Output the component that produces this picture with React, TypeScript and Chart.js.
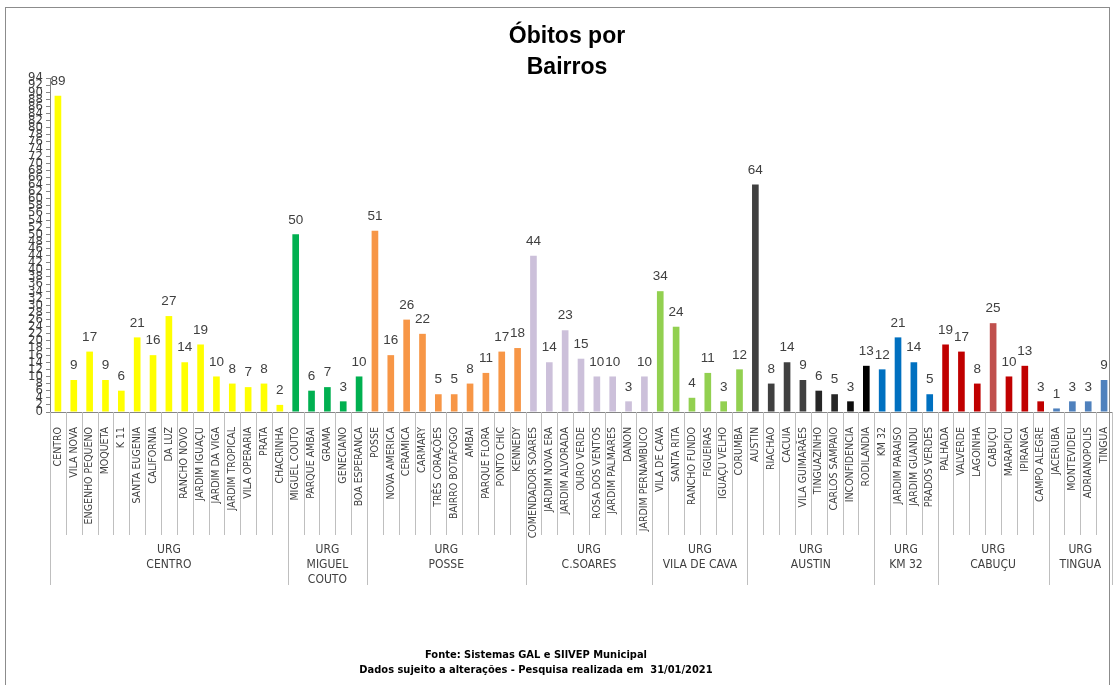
import React, { useEffect, useRef } from "react";
import { Chart, registerables } from "chart.js";

Chart.register(...registerables);

// ---------- DATA ----------
const chartTitle = ["Óbitos por", "Bairros"];
const footerLines = [
  "Fonte: Sistemas GAL e SIlVEP Municipal",
  "Dados sujeito a alterações - Pesquisa realizada em  31/01/2021",
];

const groupLabels = [
  ["URG", "CENTRO"],
  ["URG", "MIGUEL", "COUTO"],
  ["URG", "POSSE"],
  ["URG", "C.SOARES"],
  ["URG", "VILA DE CAVA"],
  ["URG", "AUSTIN"],
  ["URG", "KM 32"],
  ["URG", "CABUÇU"],
  ["URG", "TINGUA"],
];

const centroNames = [
  "CENTRO", "VILA NOVA", "ENGENHO PEQUENO", "MOQUETA", "K 11", "SANTA EUGENIA",
  "CALIFORNIA", "DA LUZ", "RANCHO NOVO", "JARDIM IGUAÇU", "JARDIM DA VIGA",
  "JARDIM TROPICAL", "VILA OPERARIA", "PRATA", "CHACRINHA",
];
const centroValues = [89, 9, 17, 9, 6, 21, 16, 27, 14, 19, 10, 8, 7, 8, 2];

const miguelCoutoNames = ["MIGUEL COUTO", "PARQUE AMBAI", "GRAMA", "GENECIANO", "BOA ESPERANCA"];
const miguelCoutoValues = [50, 6, 7, 3, 10];

const posseNames = [
  "POSSE", "NOVA AMERICA", "CERAMICA", "CARMARY", "TRÊS CORAÇÕES", "BAIRRO BOTAFOGO",
  "AMBAI", "PARQUE FLORA", "PONTO CHIC", "KENNEDY",
];
const posseValues = [51, 16, 26, 22, 5, 5, 8, 11, 17, 18];

const cSoaresNames = [
  "COMENDADOR SOARES", "JARDIM NOVA ERA", "JARDIM ALVORADA", "OURO VERDE",
  "ROSA DOS VENTOS", "JARDIM PALMARES", "DANON", "JARDIM PERNAMBUCO",
];
const cSoaresValues = [44, 14, 23, 15, 10, 10, 3, 10];

const vilaDeCavaNames = ["VILA DE CAVA", "SANTA RITA", "RANCHO FUNDO", "FIGUEIRAS", "IGUAÇU VELHO", "CORUMBA"];
const vilaDeCavaValues = [34, 24, 4, 11, 3, 12];

const austinNames = [
  "AUSTIN", "RIACHAO", "CACUIA", "VILA GUIMARÃES", "TINGUAZINHO", "CARLOS SAMPAIO",
  "INCONFIDENCIA", "RODILANDIA",
];
const austinValues = [64, 8, 14, 9, 6, 5, 3, 13];

const km32Names = ["KM 32", "JARDIM PARAISO", "JARDIM GUANDU", "PRADOS VERDES"];
const km32Values = [12, 21, 14, 5];

const cabucuNames = ["PALHADA", "VALVERDE", "LAGOINHA", "CABUÇU", "MARAPICU", "IPIRANGA", "CAMPO ALEGRE"];
const cabucuValues = [19, 17, 8, 25, 10, 13, 3];

const tinguaNames = ["JACERUBA", "MONTEVIDEU", "ADRIANOPOLIS", "TINGUA"];
const tinguaValues = [1, 3, 3, 9];

const yMax = 94;
const yStep = 2;

// ---------- STYLES ----------
const groupColors = [
  ["#FFFF00"],
  ["#00B050"],
  ["#F79646"],
  ["#CCC0DA"],
  ["#92D050"],
  ["#404040", "#404040", "#404040", "#404040", "#262626", "#262626", "#0D0D0D", "#000000"],
  ["#0070C0"],
  ["#C00000", "#C00000", "#C00000", "#C0504D", "#C00000", "#C00000", "#C00000"],
  ["#4F81BD"],
];

const groupNames = [
  centroNames, miguelCoutoNames, posseNames, cSoaresNames, vilaDeCavaNames,
  austinNames, km32Names, cabucuNames, tinguaNames,
];
const groupValues = [
  centroValues, miguelCoutoValues, posseValues, cSoaresValues, vilaDeCavaValues,
  austinValues, km32Values, cabucuValues, tinguaValues,
];

const labels: string[] = groupNames.flat();
const values: number[] = groupValues.flat();
const colors: string[] = groupNames.flatMap((names, g) =>
  names.map((_, i) => groupColors[g][i] ?? groupColors[g][0])
);
const groupStarts: number[] = [];
{
  let s = 0;
  groupNames.forEach((names) => {
    groupStarts.push(s);
    s += names.length;
  });
}

const NARROW = "'Liberation Sans Narrow', 'DejaVu Sans Condensed', 'Liberation Sans', Arial, sans-serif";
const SANS = "'Liberation Sans', Arial, sans-serif";
const TEXT = "#404040";

const decorPlugin = {
  id: "decor",
  afterDatasetsDraw(chart: any) {
    const ctx = chart.ctx as CanvasRenderingContext2D;
    const meta = chart.getDatasetMeta(0);
    ctx.save();
    ctx.font = `13.5px ${SANS}`;
    ctx.fillStyle = TEXT;
    ctx.textAlign = "center";
    ctx.textBaseline = "middle";
    meta.data.forEach((el: any, i: number) => {
      ctx.fillText(String(values[i]), el.x, el.y - 14.5);
    });
    ctx.restore();
  },
  afterDraw(chart: any) {
    const ctx = chart.ctx as CanvasRenderingContext2D;
    const xs = chart.scales.x;
    const top = chart.chartArea.bottom;
    const n = labels.length;
    const step = xs.getPixelForValue(1) - xs.getPixelForValue(0);
    const edge = (i: number) =>
      i < n ? xs.getPixelForValue(i) - step / 2 : xs.getPixelForValue(n - 1) + step / 2;
    const sepBottom = top + 123;
    const groupBottom = top + 173;

    ctx.save();
    ctx.strokeStyle = "#BFBFBF";
    ctx.lineWidth = 1;
    for (let i = 0; i <= n; i++) {
      const isGroup = i === n || groupStarts.includes(i);
      const px = Math.round(edge(i)) + 0.5;
      ctx.beginPath();
      ctx.moveTo(px, top);
      ctx.lineTo(px, isGroup ? groupBottom : sepBottom);
      ctx.stroke();
    }

    ctx.fillStyle = TEXT;
    ctx.font = `12px ${NARROW}`;
    ctx.textAlign = "center";
    ctx.textBaseline = "middle";
    groupLabels.forEach((lines, g) => {
      const start = groupStarts[g];
      const end = g + 1 < groupStarts.length ? groupStarts[g + 1] : n;
      const cx = (edge(start) + edge(end)) / 2;
      lines.forEach((line, k) => {
        ctx.fillText(line, cx, top + 138 + k * 15);
      });
    });

    // title
    ctx.fillStyle = "#000000";
    ctx.font = `bold 23px ${SANS}`;
    chartTitle.forEach((line, k) => ctx.fillText(line, 567, 37 + k * 31));

    // footer
    ctx.font = `bold 11px ${NARROW}`;
    footerLines.forEach((line, k) => ctx.fillText(line, 536, 655 + k * 15));
    ctx.restore();
  },
};

export default function App() {
  const ref = useRef<HTMLCanvasElement>(null);

  useEffect(() => {
    if (!ref.current) return;
    const chart = new Chart(ref.current, {
      type: "bar",
      data: {
        labels,
        datasets: [
          {
            data: values,
            backgroundColor: colors,
            borderWidth: 0,
            categoryPercentage: 1,
            barPercentage: 0.42,
          },
        ],
      },
      options: {
        animation: false,
        responsive: false,
        devicePixelRatio: 1,
        layout: { padding: { top: 78, bottom: 100, left: 0, right: 1 } },
        plugins: {
          legend: { display: false },
          title: { display: false },
          tooltip: { enabled: false },
        },
        scales: {
          x: {
            type: "category",
            grid: { display: false },
            border: { display: true, color: "#868686", width: 1 },
            ticks: {
              autoSkip: false,
              minRotation: 90,
              maxRotation: 90,
              padding: 7,
              color: TEXT,
              font: { size: 10.5, family: NARROW },
            },
            afterFit(scale: any) {
              scale.height = 173;
              scale.paddingLeft = 0;
              scale.paddingRight = 0;
            },
          },
          y: {
            min: 0,
            max: yMax,
            grid: { drawOnChartArea: false, drawTicks: true, tickLength: 4, color: "#868686" },
            border: { display: true, color: "#868686", width: 1 },
            ticks: {
              stepSize: yStep,
              autoSkip: false,
              padding: 3,
              color: TEXT,
              font: { size: 13, family: NARROW },
            },
            afterFit(scale: any) {
              scale.width = 50;
            },
          },
        },
      },
      plugins: [decorPlugin],
    });
    return () => chart.destroy();
  }, []);

  return (
    <div style={{ position: "fixed", left: 0, top: 0, width: 1113, height: 685, background: "#fff", overflow: "hidden" }}>
      <div
        style={{
          position: "absolute",
          left: 5,
          top: 7,
          width: 1105,
          height: 700,
          border: "1px solid #8C8C8C",
          boxSizing: "border-box",
        }}
      />
      <canvas ref={ref} width={1113} height={685} style={{ position: "absolute", left: 0, top: 0, display: "block" }} />
    </div>
  );
}
